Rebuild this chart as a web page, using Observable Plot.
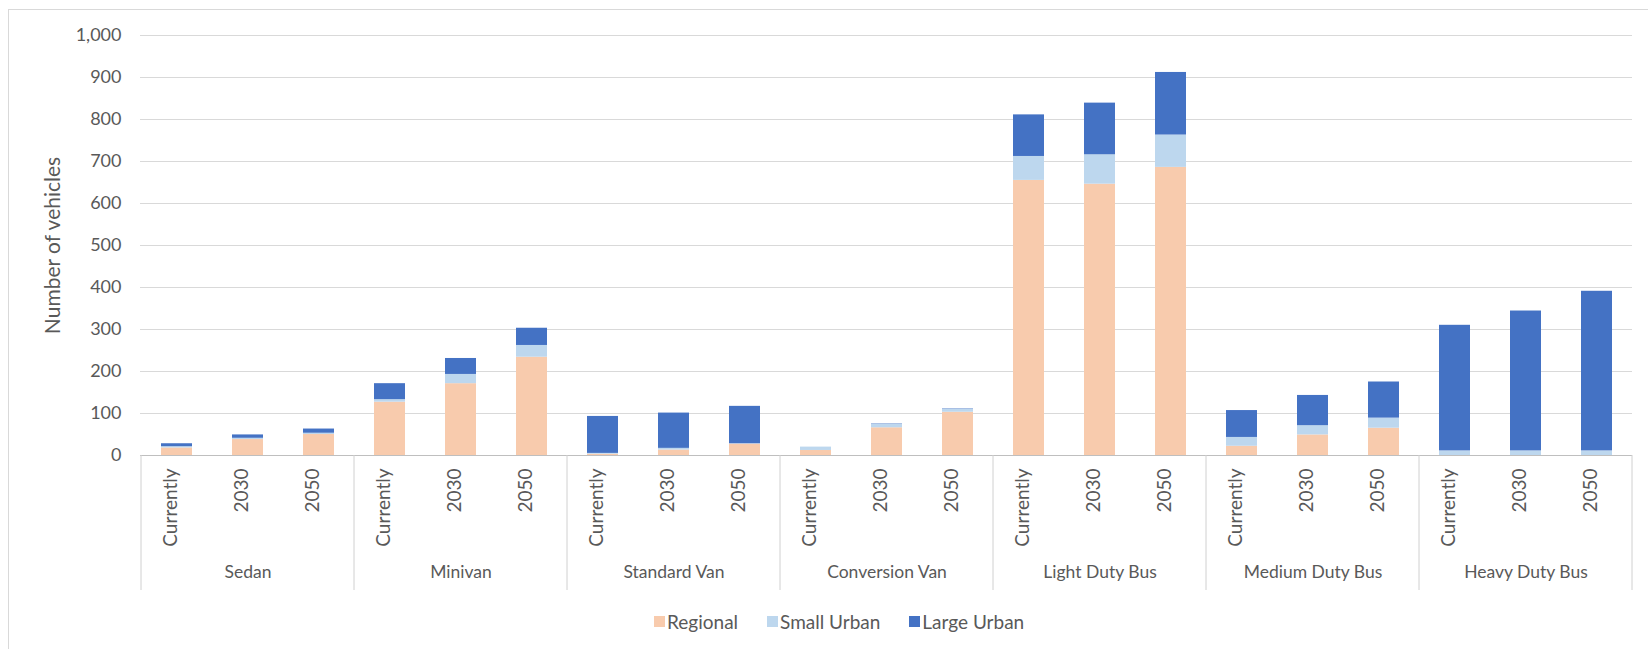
<!DOCTYPE html>
<html>
<head>
<meta charset="utf-8">
<script src="https://cdn.jsdelivr.net/npm/d3@7"></script>
<script src="https://cdn.jsdelivr.net/npm/@observablehq/plot@0.6"></script>
<style>
  html, body { margin: 0; padding: 0; background: #fff; }
  body { width: 1648px; height: 649px; position: relative; overflow: hidden; font-family: Lato, "Open Sans", sans-serif; }
  #frame { position: absolute; left: 8px; top: 9px; width: 1700px; height: 700px; border: 1px solid #d9d9d9; box-sizing: border-box; }
  #chart { position: absolute; left: 0; top: 0; }
  #legend { position: absolute; left: 654px; top: 610px; display: flex; align-items: center; font-size: 19px; color: #595959; }
  #legend .item { display: flex; align-items: center; margin-right: 29px; }
  #legend .sw { width: 11px; height: 11px; margin-right: 2px; }
</style>
</head>
<body>
<div id="frame"></div>
<div id="chart"></div>
<div id="legend"></div>
<script>
// ---- data ----
const groups = ["Sedan", "Minivan", "Standard Van", "Conversion Van", "Light Duty Bus", "Medium Duty Bus", "Heavy Duty Bus"];
const periods = ["Currently", "2030", "2050"];
const seriesNames = ["Regional", "Small Urban", "Large Urban"];
const seriesColors = ["#F8CBAD", "#BDD7EE", "#4472C4"];
// values in order: group by group, periods Currently, 2030, 2050
const regional   = [18, 38, 50,  127, 171, 234,  3, 13, 27,  12, 66, 103,  655, 646, 686,  22, 49, 65,  0, 0, 0];
const smallUrban = [3, 3, 3,     6, 22, 28,      2, 4, 1,    8, 8, 7,      57, 70, 77,     21, 22, 24, 11, 11, 11];
const largeUrban = [7, 8, 10,    38, 38, 41,     88, 84, 89, 0, 1, 1,      99, 123, 149,   64, 72, 86, 299, 333, 380];
const yTicks = [0, 100, 200, 300, 400, 500, 600, 700, 800, 900, 1000];
const yTitle = "Number of vehicles";

// ---- build tables ----
const seriesValues = [regional, smallUrban, largeUrban];
const cats = [];
groups.forEach(g => periods.forEach(p => cats.push({key: g + "|" + p, group: g, period: p})));
const rows = [];
seriesNames.forEach((s, si) => {
  cats.forEach((c, ci) => rows.push({key: c.key, group: c.group, period: c.period, series: s, value: seriesValues[si][ci]}));
});
const keys = cats.map(c => c.key);
const groupRows = groups.map(g => ({group: g, key: g + "|" + periods[1]}));

const separators = (index, scales, values, dimensions) => {
  const x = scales.x;
  const bw = typeof x.bandwidth === "function" ? x.bandwidth() : (x.bandwidth || 0);
  const step = x(keys[1]) - x(keys[0]);
  const gap = (step - bw) / 2;
  const y0 = dimensions.height - dimensions.marginBottom;
  const bounds = groups.map(g => x(g + "|" + periods[0]) - gap);
  bounds.push(x(keys[keys.length - 1]) + bw + gap);
  const g = d3.create("svg:g");
  g.selectAll("line").data(bounds).join("line")
    .attr("x1", d => d).attr("x2", d => d)
    .attr("y1", y0).attr("y2", y0 + 135)
    .attr("stroke", "#d0d0d0").attr("stroke-width", 1);
  return g.node();
};

const chart = Plot.plot({
  width: 1648,
  height: 600,
  marginTop: 35,
  marginBottom: 145,
  marginLeft: 140,
  marginRight: 16,
  style: {fontFamily: "Lato, 'Open Sans', sans-serif", fontSize: "17px", color: "#595959", background: "transparent"},
  x: {domain: keys, type: "band", paddingInner: 0.564, paddingOuter: 0.282, axis: null},
  y: {domain: [0, 1000], axis: null},
  color: {domain: seriesNames, range: seriesColors},
  marks: [
    Plot.gridY(yTicks, {stroke: "#d9d9d9", strokeOpacity: 1}),
    Plot.axisY(yTicks, {tickFormat: d3.format(","), tickSize: 0, tickPadding: 19, label: null, fontSize: 18}),
    Plot.text([yTitle], {frameAnchor: "left", dx: -87, rotate: -90, textAnchor: "middle", text: d => d, fontSize: 21}),
    Plot.barY(rows, {x: "key", y: "value", fill: "series"}),
    Plot.ruleY([0], {stroke: "#bfbfbf"}),
    Plot.text(cats, {x: "key", text: "period", frameAnchor: "bottom", rotate: -90, textAnchor: "end", dy: 13, fontSize: 19, letterSpacing: 0.6}),
    Plot.text(groupRows, {x: "key", text: "group", frameAnchor: "bottom", dy: 122, fontSize: 17.5}),
    separators
  ]
});
document.getElementById("chart").appendChild(chart);

const legend = d3.select("#legend");
seriesNames.forEach((s, i) => {
  const it = legend.append("div").attr("class", "item");
  it.append("div").attr("class", "sw").style("background", seriesColors[i]);
  it.append("span").text(s);
});
</script>
</body>
</html>
